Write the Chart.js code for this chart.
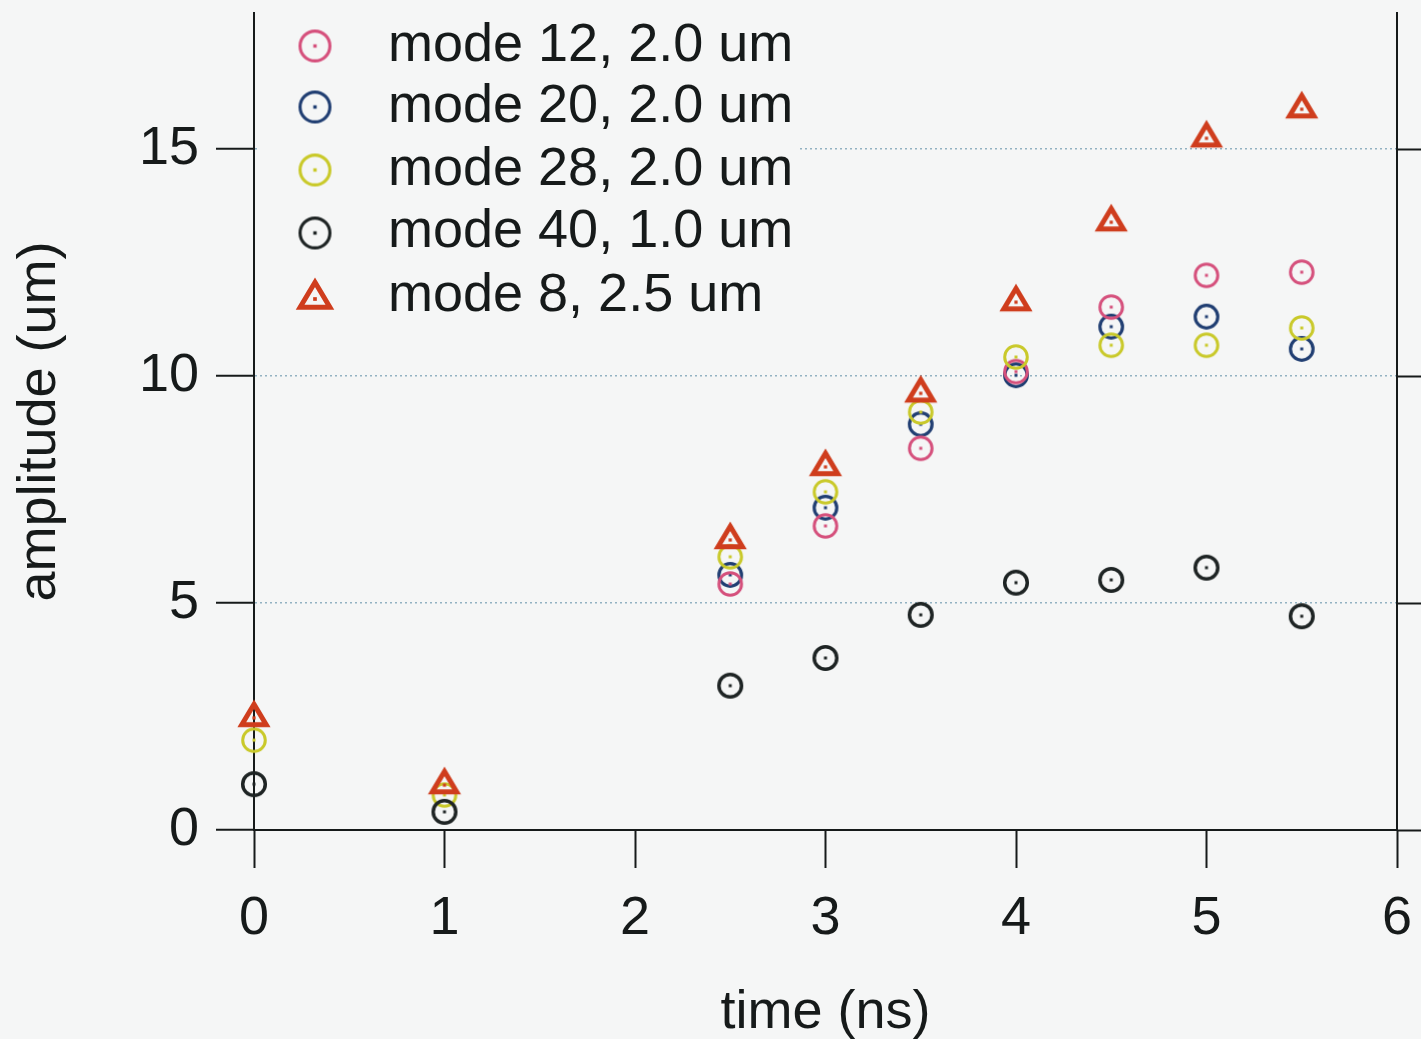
<!DOCTYPE html>
<html><head><meta charset="utf-8">
<script src="https://cdn.jsdelivr.net/npm/chart.js@4/dist/chart.umd.min.js"></script>
<style>html,body{margin:0;padding:0;background:#f5f6f6;overflow:hidden}</style>
</head><body>
<canvas id="c" width="1421" height="1039" style="display:block;width:1421px;height:1039px"></canvas>
<script>
// ---- data ----
const times = [0, 1, 2.5, 3, 3.5, 4, 4.5, 5, 5.5];
const seriesNames = ['mode 12, 2.0 um', 'mode 20, 2.0 um', 'mode 28, 2.0 um', 'mode 40, 1.0 um', 'mode 8, 2.5 um'];
const mode12 = [null, null, 5.42, 6.70, 8.41, 10.10, 11.52, 12.22, 12.29];
const mode20 = [null, null, 5.62, 7.10, 8.94, 10.02, 11.09, 11.31, 10.60];
const mode28 = [1.98, 0.77, 6.02, 7.45, 9.21, 10.42, 10.68, 10.68, 11.06];
const mode40 = [1.01, 0.40, 3.18, 3.79, 4.74, 5.45, 5.51, 5.78, 4.71];
const mode8  = [2.47, 0.99, 6.39, 8.00, 9.62, 11.63, 13.39, 15.24, 15.88];
const xTicks = [0, 1, 2, 3, 4, 5, 6];
const yTicks = [0, 5, 10, 15];

// ---- styles ----
const BG = '#f5f6f6';
const INK = '#161a1a';
const FONT = '"Liberation Sans", Arial, Helvetica, sans-serif';
const colors = ['#d5507c', '#203e72', '#c9c92a', '#1e2424', '#cf3d1d'];
const ringWidths = [3, 3.2, 3, 3.5];

function circleMarker(color, s, lw) {
  const size = Math.ceil(32 * s);
  const c = document.createElement('canvas');
  c.width = size; c.height = size;
  const g = c.getContext('2d');
  const m = size / 2;
  g.strokeStyle = color; g.lineWidth = lw * (s > 1 ? 1.05 : 1);
  g.beginPath(); g.arc(m, m, 11.3 * s, 0, Math.PI * 2); g.stroke();
  const d = 3 * (s > 1 ? 1.15 : 1);
  g.fillStyle = color; g.fillRect(m - d / 2, m - d / 2, d, d);
  return c;
}
function triangleMarker(color, s) {
  const size = Math.ceil(44 * s);
  const c = document.createElement('canvas');
  c.width = size; c.height = size;
  const g = c.getContext('2d');
  g.strokeStyle = color; g.lineWidth = 5; g.lineJoin = 'miter';
  const cx = size / 2, cy = size / 2, H = 20.5 * s, hb = 12.2 * s;
  g.beginPath();
  g.moveTo(cx, cy - H * 2 / 3);
  g.lineTo(cx + hb, cy + H / 3);
  g.lineTo(cx - hb, cy + H / 3);
  g.closePath(); g.stroke();
  const d = 3.2 * (s > 1 ? 1.15 : 1);
  g.fillStyle = color; g.fillRect(cx - d / 2, cy - d / 2, d, d);
  return c;
}
const markers = [0, 1, 2, 3].map(i => circleMarker(colors[i], 1, ringWidths[i])).concat([triangleMarker(colors[4], 1)]);
const legendMarkers = [0, 1, 2, 3].map(i => circleMarker(colors[i], 1.32, 3)).concat([triangleMarker(colors[4], 1.22)]);
const seriesValues = [mode12, mode20, mode28, mode40, mode8];
const drawOrder = [3, 4, 2, 1, 0];

const datasets = seriesNames.map((name, i) => ({
  label: name,
  data: times.map((t, k) => ({x: t, y: seriesValues[i][k]})).filter(p => p.y !== null),
  pointStyle: markers[i],
  pointRadius: 12,
  showLine: false,
  clip: false,
  order: drawOrder[i]
}));

const bgPlugin = {
  id: 'bg',
  beforeDraw(chart) {
    const ctx = chart.ctx;
    ctx.save(); ctx.fillStyle = BG; ctx.fillRect(0, 0, chart.width, chart.height); ctx.restore();
  }
};
const legendPlugin = {
  id: 'boxLegend',
  afterDraw(chart) {
    const ctx = chart.ctx;
    ctx.save();
    ctx.fillStyle = BG;
    ctx.fillRect(257, 14, 542, 312);
    const rowY = [46, 107, 170, 232, 296];
    const markY = [46, 107, 170, 233, 299];
    ctx.font = '54px ' + FONT;
    ctx.textBaseline = 'middle';
    ctx.textAlign = 'left';
    ctx.fillStyle = INK;
    seriesNames.forEach((n, i) => {
      const m = legendMarkers[i];
      ctx.drawImage(m, 315 - m.width / 2, markY[i] - m.height / 2);
      ctx.fillText(n, 388, rowY[i]);
    });
    ctx.restore();
  }
};

const tickFont = {family: FONT, size: 54, lineHeight: 1.0};
const keepTicks = (list) => (scale) => { scale.ticks = list.map(v => ({value: v})); };

new Chart(document.getElementById('c'), {
  type: 'scatter',
  data: {datasets},
  options: {
    responsive: false,
    animation: false,
    events: [],
    devicePixelRatio: 1,
    layout: {padding: {top: 12, left: 0, right: 0, bottom: 0}},
    plugins: {legend: {display: false}, tooltip: {enabled: false}},
    scales: {
      x: {
        type: 'linear', position: 'bottom', min: 0, max: 6,
        afterBuildTicks: keepTicks(xTicks),
        ticks: {color: INK, font: tickFont, padding: 24, maxRotation: 0, autoSkip: false},
        grid: {drawOnChartArea: false, tickLength: 38, tickWidth: 2, tickColor: INK},
        border: {color: INK, width: 2},
        title: {display: true, text: 'time (ns)', color: INK, font: {family: FONT, size: 54, lineHeight: 0.95}, padding: {top: 0, bottom: 0}},
        afterFit(s) { s.height = 209; s.paddingLeft = 0; s.paddingRight = 0; }
      },
      y: {
        type: 'linear', position: 'left', min: 0, max: 18,
        afterBuildTicks: keepTicks(yTicks),
        ticks: {color: INK, font: tickFont, padding: 17},
        grid: {
          color: (c) => (c.tick && c.tick.value === 0) ? 'rgba(0,0,0,0)' : '#93b2c2',
          lineWidth: 1.5, tickLength: 38, tickWidth: 2, tickColor: INK, tickBorderDash: []
        },
        border: {color: INK, width: 2, dash: [2, 3]},
        title: {display: true, text: 'amplitude (um)', color: INK, font: {family: FONT, size: 54, lineHeight: 1.0}, padding: {top: 13, bottom: 0}},
        afterFit(s) { s.width = 254; s.paddingTop = 0; s.paddingBottom = 0; }
      },
      y2: {
        type: 'linear', position: 'right', min: 0, max: 18,
        afterBuildTicks: keepTicks(yTicks),
        ticks: {display: false},
        grid: {drawOnChartArea: false, tickLength: 24, tickWidth: 2, tickColor: INK},
        border: {color: INK, width: 2},
        afterFit(s) { s.width = 24; s.paddingTop = 0; s.paddingBottom = 0; }
      }
    }
  },
  plugins: [bgPlugin, legendPlugin]
});
</script>
</body></html>
